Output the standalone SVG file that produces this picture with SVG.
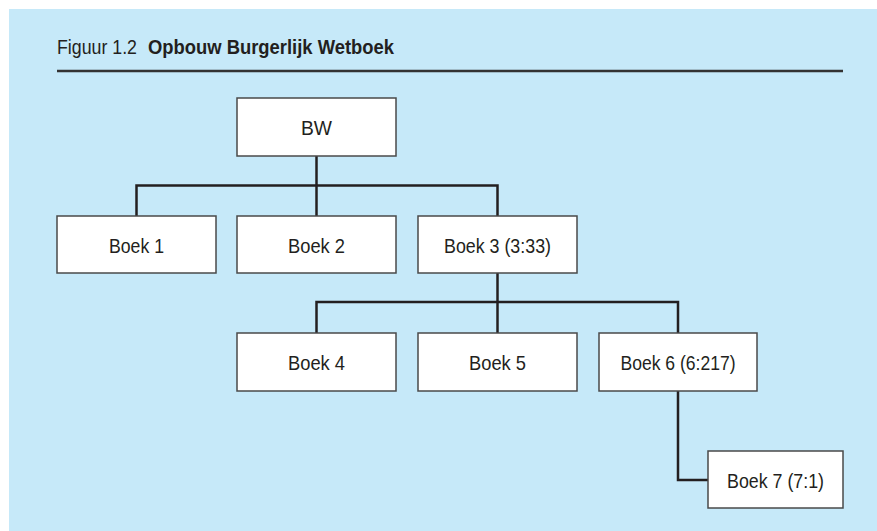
<svg xmlns="http://www.w3.org/2000/svg" width="877" height="531" viewBox="0 0 877 531">
<style>
.bg{fill:#c6e9f9}
.box{fill:#ffffff;stroke:#4a4a4a;stroke-width:1.5}
.lbl{font-family:"Liberation Sans Narrow","Liberation Sans",Arial,sans-serif;font-size:21px;fill:#231f20;text-anchor:middle}
.ttl{font-family:"Liberation Sans Narrow","Liberation Sans",Arial,sans-serif;font-size:20.5px;fill:#231f20}
.conn{fill:none;stroke:#231f20;stroke-width:2.5;stroke-linejoin:miter}
</style>
<rect x="0" y="0" width="877" height="531" fill="#ffffff"/>
<rect class="bg" x="9" y="9" width="868" height="522"/>
<g id="title">
<text class="ttl" x="57" y="54" textLength="80" lengthAdjust="spacingAndGlyphs">Figuur 1.2</text>
<text class="ttl" x="148" y="54" font-weight="bold" textLength="246" lengthAdjust="spacingAndGlyphs">Opbouw Burgerlijk Wetboek</text>
<line x1="57" y1="71" x2="843" y2="71" stroke="#333333" stroke-width="2.5"/>
</g>
<g id="connectors">
<path class="conn" d="M316.5,156 V185.5"/>
<path class="conn" d="M136.5,216 V185.5 H497.5 V216"/>
<path class="conn" d="M316.5,185.5 V216"/>
<path class="conn" d="M497.5,273 V302"/>
<path class="conn" d="M316.5,333 V302 H678 V333"/>
<path class="conn" d="M497.5,302 V333"/>
<path class="conn" d="M678,391 V480 H708"/>
</g>
<g id="bw">
<rect class="box" x="237" y="98" width="159" height="58"/>
<text class="lbl" x="316.5" y="135" textLength="31" lengthAdjust="spacingAndGlyphs">BW</text>
</g>
<g id="boek1">
<rect class="box" x="57" y="216" width="159" height="57"/>
<text class="lbl" x="136.5" y="252.5" textLength="55" lengthAdjust="spacingAndGlyphs">Boek 1</text>
</g>
<g id="boek2">
<rect class="box" x="237" y="216" width="159" height="57"/>
<text class="lbl" x="316.5" y="252.5" textLength="57" lengthAdjust="spacingAndGlyphs">Boek 2</text>
</g>
<g id="boek3">
<rect class="box" x="418" y="216" width="159" height="57"/>
<text class="lbl" x="497.5" y="252.5" textLength="107" lengthAdjust="spacingAndGlyphs">Boek 3 (3:33)</text>
</g>
<g id="boek4">
<rect class="box" x="237" y="333" width="159" height="58"/>
<text class="lbl" x="316.5" y="370" textLength="57" lengthAdjust="spacingAndGlyphs">Boek 4</text>
</g>
<g id="boek5">
<rect class="box" x="418" y="333" width="159" height="58"/>
<text class="lbl" x="497.5" y="370" textLength="57" lengthAdjust="spacingAndGlyphs">Boek 5</text>
</g>
<g id="boek6">
<rect class="box" x="599" y="333" width="158" height="58"/>
<text class="lbl" x="678" y="370" textLength="115" lengthAdjust="spacingAndGlyphs">Boek 6 (6:217)</text>
</g>
<g id="boek7">
<rect class="box" x="708" y="451" width="135" height="57"/>
<text class="lbl" x="775.5" y="487.5" textLength="97" lengthAdjust="spacingAndGlyphs">Boek 7 (7:1)</text>
</g>
</svg>
